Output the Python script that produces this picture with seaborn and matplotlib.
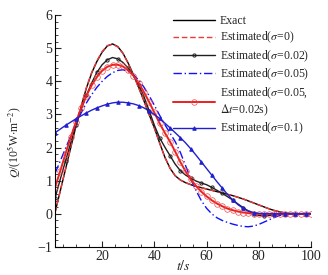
import numpy as np
import matplotlib
matplotlib.use('Agg')
import matplotlib.pyplot as plt
import seaborn as sns

# time axis (s)
t = list(range(2, 101, 2))

exact = [0.05, 0.7, 1.35, 2.0, 2.65, 3.25, 3.8, 4.25, 4.6, 4.88,
         5.07, 5.13, 5.05, 4.85, 4.55, 4.2, 3.82, 3.42, 3.0, 2.6,
         2.15, 1.72, 1.38, 1.15, 1.02, 0.94, 0.88, 0.83, 0.79, 0.75,
         0.71, 0.67, 0.63, 0.59, 0.55, 0.5, 0.45, 0.39, 0.33, 0.27,
         0.21, 0.15, 0.1, 0.06, 0.03, 0.01, 0.0, 0.0, 0.0, 0.0]

est_s0 = [0.04, 0.7, 1.36, 2.02, 2.67, 3.27, 3.82, 4.27, 4.62, 4.9,
          5.08, 5.12, 5.04, 4.84, 4.54, 4.19, 3.81, 3.41, 3.0, 2.59,
          2.14, 1.71, 1.38, 1.15, 1.02, 0.94, 0.88, 0.83, 0.79, 0.75,
          0.71, 0.67, 0.63, 0.59, 0.55, 0.5, 0.45, 0.39, 0.33, 0.27,
          0.21, 0.15, 0.1, 0.06, 0.03, 0.01, 0.0, 0.0, 0.0, 0.0]

est_s002 = [0.48, 1.05, 1.6, 2.15, 2.68, 3.15, 3.58, 3.95, 4.27, 4.5,
            4.65, 4.72, 4.68, 4.57, 4.4, 4.18, 3.9, 3.55, 3.12, 2.68,
            2.3, 2.02, 1.76, 1.5, 1.3, 1.17, 1.07, 0.99, 0.93, 0.88,
            0.8, 0.71, 0.62, 0.52, 0.42, 0.3, 0.19, 0.08, 0.0, -0.05,
            -0.06, -0.05, -0.03, -0.01, 0.0, 0.0, 0.0, 0.0, 0.0, 0.0]

est_s005 = [1.23, 1.6, 1.98, 2.35, 2.72, 3.05, 3.35, 3.6, 3.82, 4.0,
            4.15, 4.26, 4.33, 4.35, 4.3, 4.2, 4.04, 3.83, 3.57, 3.28,
            2.98, 2.7, 2.44, 2.18, 1.85, 1.45, 1.05, 0.7, 0.4, 0.17,
            0.0, -0.12, -0.2, -0.26, -0.31, -0.35, -0.38, -0.39, -0.37, -0.32,
            -0.25, -0.18, -0.11, -0.05, -0.02, 0.0, 0.0, 0.0, 0.0, 0.0]

est_s005_dt = [0.8, 1.3, 1.82, 2.32, 2.78, 3.2, 3.57, 3.88, 4.13, 4.32,
               4.44, 4.5, 4.5, 4.45, 4.33, 4.17, 3.95, 3.68, 3.38, 3.06,
               2.74, 2.45, 2.18, 1.88, 1.56, 1.28, 1.04, 0.84, 0.67, 0.53,
               0.41, 0.31, 0.23, 0.16, 0.11, 0.07, 0.04, 0.02, 0.01, 0.0,
               0.0, 0.0, 0.0, 0.0, 0.0, 0.0, 0.0, 0.0, 0.0, 0.0]

est_s01 = [2.45, 2.56, 2.67, 2.77, 2.87, 2.96, 3.05, 3.13, 3.2, 3.26,
           3.31, 3.35, 3.37, 3.37, 3.35, 3.32, 3.27, 3.2, 3.11, 3.0,
           2.88, 2.74, 2.6, 2.45, 2.3, 2.14, 1.96, 1.77, 1.57, 1.37,
           1.17, 0.97, 0.78, 0.59, 0.42, 0.28, 0.17, 0.09, 0.04, 0.01,
           0.0, 0.0, 0.0, 0.0, 0.0, 0.0, 0.0, 0.0, 0.0, 0.0]

sns.set_style('ticks')
plt.rcParams['font.family'] = ['Liberation Serif', 'DejaVu Serif']
plt.rcParams['mathtext.fontset'] = 'stix'
plt.rcParams['font.size'] = 8.5

fig = plt.figure(figsize=(3.28, 2.75), dpi=100)
ax = fig.add_axes([0.168, 0.102, 0.78, 0.843])

sns.lineplot(x=t, y=exact, ax=ax, color='black', lw=1.0, label='Exact')
sns.lineplot(x=t, y=est_s0, ax=ax, color='#ee3a3a', lw=1.0, dashes=(4, 2),
             label=r'Estimated($\sigma$=0)')
sns.lineplot(x=t, y=est_s002, ax=ax, color='#202020', lw=1.0, marker='o',
             markersize=2.3, mfc='none', mec='#202020', mew=0.7, markevery=2,
             label=r'Estimated($\sigma$=0.02)')
sns.lineplot(x=t, y=est_s005, ax=ax, color='#1010ff', lw=1.0, dashes=(6, 2, 1, 2),
             label=r'Estimated($\sigma$=0.05)')
sns.lineplot(x=t, y=est_s005_dt, ax=ax, color='#e82020', lw=1.4, marker='o',
             markersize=4.0, mfc='none', mec='#ee4848', mew=0.5,
             label='Estimated($\\sigma$=0.05,\n$\\Delta t$=0.02s)')
sns.lineplot(x=t, y=est_s01, ax=ax, color='#2020d0', lw=1.0, marker='^',
             markersize=2.5, mec='#2020d0', markevery=2,
             label=r'Estimated($\sigma$=0.1)')

ax.set_xlim(2, 100)
ax.set_ylim(-1, 6)
ax.set_xticks([20, 40, 60, 80, 100])
ax.set_xticks(np.arange(5, 100, 5), minor=True)
ax.set_yticks(range(-1, 7))
ax.set_yticks(np.arange(-1, 6, 0.2), minor=True)
ax.tick_params(which='major', direction='in', length=4, width=0.8, labelsize=10, pad=2)
ax.tick_params(which='minor', direction='in', length=2, width=0.6)
sns.despine(ax=ax)
for s in ['left', 'bottom']:
    ax.spines[s].set_linewidth(0.8)
    ax.spines[s].set_color('black')

ax.set_xlabel(r'$t/s$', fontsize=10)
ax.xaxis.set_label_coords(0.5, -0.05)
ax.set_ylabel(r'$Q$/(10$^5$W$\cdot$m$^{-2}$)', fontsize=8.5)
ax.yaxis.set_label_coords(-0.125, 0.45)

ax.legend(loc='upper left', bbox_to_anchor=(0.527, 0.945), bbox_transform=fig.transFigure,
          frameon=False, fontsize=8.5, handlelength=3.6, handletextpad=0.4,
          labelspacing=0.25, borderpad=0, borderaxespad=0)

fig.savefig('out.png', dpi=100)
